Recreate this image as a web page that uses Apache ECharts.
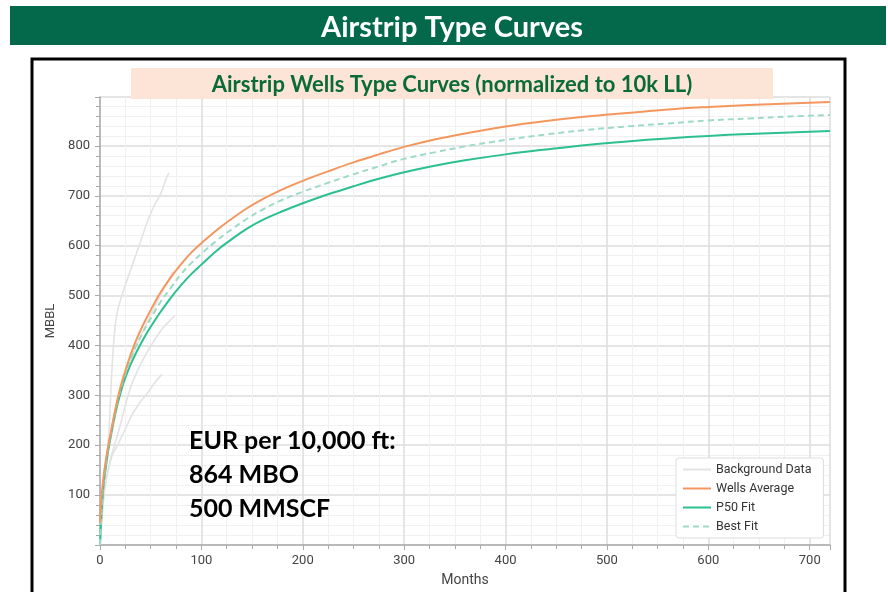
<!DOCTYPE html>
<html>
<head>
<meta charset="utf-8">
<title>Airstrip Type Curves</title>
<script src="https://cdn.jsdelivr.net/npm/echarts@6/dist/echarts.min.js"></script>
<style>
  html, body { margin: 0; padding: 0; background: #ffffff; }
  #chart { width: 888px; height: 592px; }
</style>
</head>
<body>
<div id="chart"></div>
<script>
// Cumulative oil (MBBL) versus producing month, normalized to a 10,000 ft lateral.
const months = [0, 1, 2, 3, 4, 6, 8, 10, 12, 15, 18, 21, 24, 30, 36, 42, 48, 54, 60, 70, 80, 90, 100,
  115, 130, 145, 160, 180, 200, 225, 250, 275, 300, 330, 360, 400, 440, 480, 520, 560, 600, 640, 680, 720];

const wellsAverage = [45, 85, 108, 128, 145, 173, 197, 219, 240, 270, 298, 322, 343, 380, 412, 439, 463, 486, 507, 537, 563, 586, 605,
  631, 654, 675, 693, 713, 730, 749, 767, 783, 798, 813, 825, 839, 850, 859, 866, 873, 878, 882, 885, 888];
const p50Fit = [0, 45, 80, 108, 130, 160, 188, 211, 232, 262, 288, 310, 330, 361, 387, 410, 431, 450, 468, 496, 521, 543, 562,
  590, 613, 634, 651, 669, 685, 703, 719, 734, 747, 760, 771, 783, 793, 802, 809, 815, 820, 824, 827, 830];
const bestFit = [0, 50, 90, 117, 138, 168, 194, 216, 237, 268, 295, 318, 338, 372, 401, 425, 447, 468, 488, 516, 543, 565, 584,
  610, 633, 654, 672, 692, 708, 726, 743, 759, 774, 787, 799, 812, 823, 832, 839, 845, 851, 855, 859, 862];

// Individual well histories shown behind the fitted curves
const wellAMonths = [0, 3, 6, 9, 12, 15, 18, 24, 30, 36, 42, 48, 54, 60, 66, 68];
const wellAValues = [0, 90, 160, 235, 360, 440, 475, 515, 550, 585, 620, 655, 682, 705, 738, 746];
const wellBMonths = [0, 3, 6, 10, 15, 20, 25, 30, 36, 42, 48, 55, 62, 68, 74];
const wellBValues = [0, 80, 130, 170, 205, 240, 280, 315, 345, 370, 392, 415, 435, 448, 460];
const wellCMonths = [0, 2, 4, 8, 12, 16, 24, 31, 34, 40, 47, 54, 61];
const wellCValues = [0, 60, 105, 148, 180, 195, 228, 259, 269, 287, 305, 325, 342];
const wellDMonths = [0, 3, 6, 12, 18, 24, 36, 48, 60, 72];
const wellDValues = [0, 100, 160, 240, 300, 340, 400, 452, 502, 548];

const xTicks = [0, 100, 200, 300, 400, 500, 600, 700];
const yTicks = [100, 200, 300, 400, 500, 600, 700, 800];

const pairs = (xs, ys) => xs.map((x, i) => [x, ys[i]]);

const chart = echarts.init(document.getElementById('chart'), null, { renderer: 'canvas' });

const axisFont = { fontFamily: 'Roboto', fontSize: 13, color: '#444' };

const bgSeries = [
  [wellAMonths, wellAValues],
  [wellBMonths, wellBValues],
  [wellCMonths, wellCValues],
  [wellDMonths, wellDValues]
].map(([xs, ys]) => ({
  name: 'Background Data',
  type: 'line',
  data: pairs(xs, ys),
  smooth: 0.3,
  symbol: 'none',
  lineStyle: { color: '#e3e3e3', width: 1.6 },
  itemStyle: { color: '#e3e3e3' },
  z: 1
}));

chart.setOption({
  animation: false,
  backgroundColor: '#ffffff',
  grid: { left: 100, right: 58, top: 97, bottom: 46, containLabel: false },
  xAxis: {
    type: 'value',
    min: 0,
    max: 720,
    interval: 100,
    name: 'Months',
    nameLocation: 'middle',
    nameGap: 28,
    nameTextStyle: { fontFamily: 'Roboto', fontSize: 14, color: '#444' },
    axisLine: { show: true, lineStyle: { color: '#aaaaaa', width: 1.5 } },
    axisTick: { show: true, length: 5, lineStyle: { color: '#aaaaaa' } },
    minorTick: { show: true, splitNumber: 4, length: 4, lineStyle: { color: '#aaaaaa' } },
    axisLabel: Object.assign({ showMaxLabel: false, margin: 9,
      formatter: v => xTicks.includes(v) ? String(v) : '' }, axisFont),
    splitLine: { show: true, lineStyle: { color: '#dcdcdc', width: 1.5 } },
    minorSplitLine: { show: true, lineStyle: { color: '#f1f1f1', width: 1 } }
  },
  yAxis: {
    type: 'value',
    min: 0,
    max: 898,
    interval: 100,
    name: 'MBBL',
    nameLocation: 'middle',
    nameGap: 36,
    nameTextStyle: { fontFamily: 'Roboto', fontSize: 13, color: '#444' },
    axisLine: { show: true, lineStyle: { color: '#aaaaaa', width: 1.5 } },
    axisTick: { show: true, length: 5, lineStyle: { color: '#aaaaaa' } },
    minorTick: { show: true, splitNumber: 5, length: 4, lineStyle: { color: '#aaaaaa' } },
    axisLabel: Object.assign({ showMinLabel: false, showMaxLabel: false, margin: 10,
      formatter: v => yTicks.includes(v) ? String(v) : '' }, axisFont),
    splitLine: { show: true, lineStyle: { color: '#dcdcdc', width: 1.5 } },
    minorSplitLine: { show: true, lineStyle: { color: '#f1f1f1', width: 1 } }
  },
  legend: {
    orient: 'vertical',
    left: 676,
    top: 458,
    data: ['Background Data', 'Wells Average', 'P50 Fit', 'Best Fit'],
    itemWidth: 28,
    itemHeight: 12,
    itemGap: 6,
    padding: [5, 12, 5, 6],
    backgroundColor: '#ffffff',
    borderColor: '#dddddd',
    borderWidth: 1,
    borderRadius: 3,
    itemStyle: { opacity: 0 },
    textStyle: { fontFamily: 'Roboto', fontSize: 12.5, color: '#333' }
  },
  graphic: [
    { type: 'rect', shape: { x: 10, y: 6, width: 876, height: 39 }, style: { fill: '#03694a' }, z: 100 },
    { type: 'text', x: 452, y: 28, style: { text: 'Airstrip Type Curves', fill: '#ffffff',
        font: 'bold 29px Lato', textAlign: 'center', textVerticalAlign: 'middle' }, z: 101 },
    { type: 'rect', shape: { x: 32, y: 59, width: 813, height: 560 }, style: { fill: 'none', stroke: '#000000', lineWidth: 3 }, z: 100 },
    { type: 'rect', shape: { x: 131, y: 68, width: 642, height: 31 }, style: { fill: '#fce5d6' }, z: 100 },
    { type: 'text', x: 452, y: 85, style: { text: 'Airstrip Wells Type Curves (normalized to 10k LL)', fill: '#0b6b38',
        font: 'bold 22px Lato', textAlign: 'center', textVerticalAlign: 'middle' }, z: 101 },
    { type: 'text', x: 189, y: 475, style: { text: 'EUR per 10,000 ft:\n864 MBO\n500 MMSCF', fill: '#000000',
        font: 'bold 25px Lato', lineHeight: 34, textAlign: 'left', textVerticalAlign: 'middle' }, z: 101 }
  ],
  series: bgSeries.concat([
    {
      name: 'P50 Fit', type: 'line', data: pairs(months, p50Fit), smooth: 0.4, symbol: 'none',
      lineStyle: { color: '#2cc08e', width: 2 }, itemStyle: { color: '#2cc08e' }, z: 3
    },
    {
      name: 'Best Fit', type: 'line', data: pairs(months, bestFit), smooth: 0.4, symbol: 'none',
      lineStyle: { color: '#9edbc4', width: 2, type: [6, 4] }, itemStyle: { color: '#9edbc4' }, z: 4
    },
    {
      name: 'Wells Average', type: 'line', data: pairs(months, wellsAverage), smooth: 0.4, symbol: 'none',
      lineStyle: { color: '#f4975e', width: 2 }, itemStyle: { color: '#f4975e' }, z: 5
    }
  ])
});
</script>
</body>
</html>
